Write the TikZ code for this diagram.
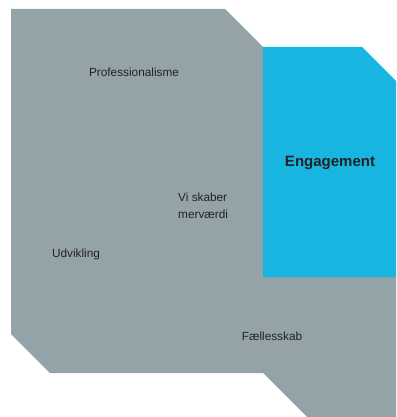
\documentclass[tikz,border=0pt]{standalone}
\usepackage{fontspec}
\setmainfont{Liberation Sans}
\definecolor{slate}{HTML}{94A3A8}
\definecolor{sky}{HTML}{17B5E0}
\definecolor{ink}{HTML}{222222}
\begin{document}
\begin{tikzpicture}[x=1pt,y=-1pt,
  lbl/.style={text=ink,font=\fontsize{11.8}{17}\selectfont,inner sep=0pt},
  big/.style={text=ink,font=\fontsize{15}{18}\selectfont\bfseries,inner sep=0pt}]
\useasboundingbox (0,0) rectangle (396,417);
\fill[slate] (11,9) -- (225,9) -- (263,47) -- (263,277) -- (396,277) -- (396,417)
  -- (307,417) -- (263,373) -- (50,373) -- (11,334) -- cycle;
\fill[sky] (263,47) -- (362,47) -- (396,81) -- (396,277) -- (263,277) -- cycle;
\node[lbl] (prof) at (134,72) {Professionalisme};
\node[big] (eng) at (330,162.5) {Engagement};
\node[lbl,align=left,anchor=west] (vi) at (178,206) {Vi skaber\\merværdi};
\node[lbl] (udv) at (76,254.5) {Udvikling};
\node[lbl] (fael) at (272,336) {Fællesskab};
\end{tikzpicture}
\end{document}
